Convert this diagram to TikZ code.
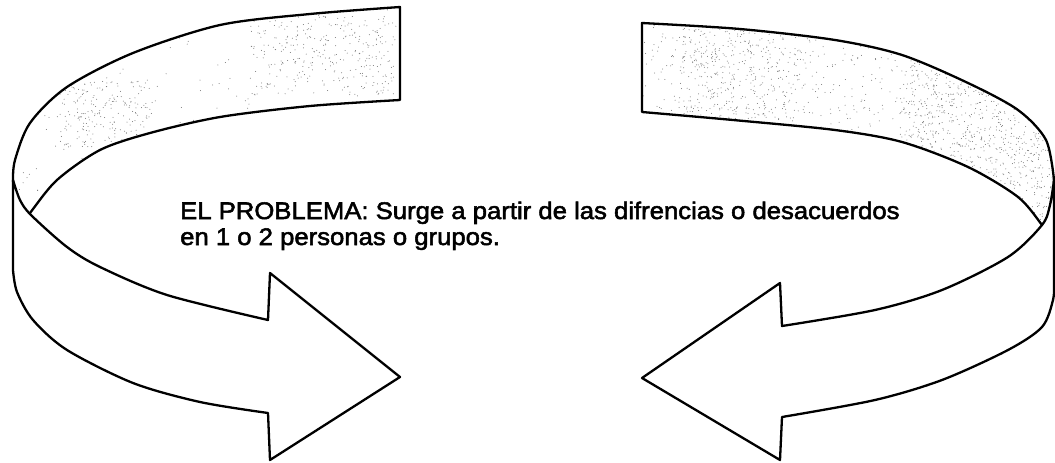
\documentclass[tikz,border=0pt]{standalone}
\usepackage{fontspec}
\newfontfamily\labelfont[FakeStretch=1.07, FakeBold=2.2]{Liberation Sans}
\usetikzlibrary{positioning}
\tikzstyle{ribbon} = [draw=black, line width=2.3pt, line join=round, fill=white]
\tikzstyle{backside} = [draw=black, line width=2.3pt, line join=round]
\tikzstyle{speck} = [fill=black!55]
\tikzstyle{label} = [font=\labelfont\fontsize{24}{26}\selectfont, align=left,
                     inner sep=0pt, anchor=base west]

\begin{document}
\begin{tikzpicture}[x=1pt, y=-1pt]
    \useasboundingbox (0,0) rectangle (1055,463);
    \pgfmathsetseed{17}

    % left arrow, far side of the ribbon
    \def\leftback{plot[smooth] coordinates {(400,7) (310,14) (220,25) (133,53)
        (67,87) (30,123) (15,160) (13,180)} -- (16,224)
        -- plot[smooth] coordinates {(22,224) (30,213) (57,180) (100,150)
        (150,133) (220,117) (310,106) (400,100)} -- cycle}
    \begin{scope}
        \clip \leftback;
        \foreach \i in {1,...,260}
            \fill[speck] ({13+387*rnd},{7+215*rnd}) circle (0.5pt);
        \foreach \i in {1,...,220}
            \fill[speck] ({60+90*rnd},{80+70*rnd}) circle (0.5pt);
        \foreach \i in {1,...,300}
            \fill[speck] ({250+145*rnd},{15+80*rnd}) circle (0.5pt);
    \end{scope}
    \draw[backside] \leftback;

    % left arrow, near side with the head
    \draw[ribbon] plot[smooth] coordinates {(13,180) (20,200) (31,215) (67,247)
        (100,267) (167,295) (268,320)} -- (270,273) -- (400,377) -- (270,460)
        -- plot[smooth] coordinates {(268,413) (200,402) (133,383) (67,350)
        (33,320) (17,292) (13,270)} -- cycle;

    % right arrow, far side of the ribbon
    \def\rightback{plot[smooth] coordinates {(642,23) (740,29) (835,40) (902,55)
        (968,83) (1018,110) (1046,140) (1054,180)} -- (1054,236)
        -- plot[smooth] coordinates {(1048,234) (1042,225) (1018,197) (968,167)
        (902,142) (835,130) (733,120) (642,112)} -- cycle}
    \begin{scope}
        \clip \rightback;
        \foreach \i in {1,...,1000}
            \fill[speck] ({642+412*rnd},{20+215*rnd}) circle (0.5pt);
        \foreach \i in {1,...,1100}
            \fill[speck] ({900+154*rnd},{50+190*rnd}) circle (0.5pt);
        \foreach \i in {1,...,350}
            \fill[speck] ({680+120*rnd},{25+95*rnd}) circle (0.5pt);
    \end{scope}
    \draw[backside] \rightback;

    % right arrow, near side with the head
    \draw[ribbon] plot[smooth] coordinates {(1054,180) (1050,205) (1042,225)
        (1008,257) (942,290) (875,310) (782,326)} -- (780,283) -- (642,378)
        -- (780,460) -- plot[smooth] coordinates {(782,417) (875,400) (942,380)
        (1008,350) (1042,327) (1053,300) (1054,282)} -- cycle;

    \node[label] (problema) at (180,245)
        {EL PROBLEMA: Surge a partir de las difrencias o desacuerdos\\
         en 1 o 2 personas o grupos.};
\end{tikzpicture}
\end{document}
